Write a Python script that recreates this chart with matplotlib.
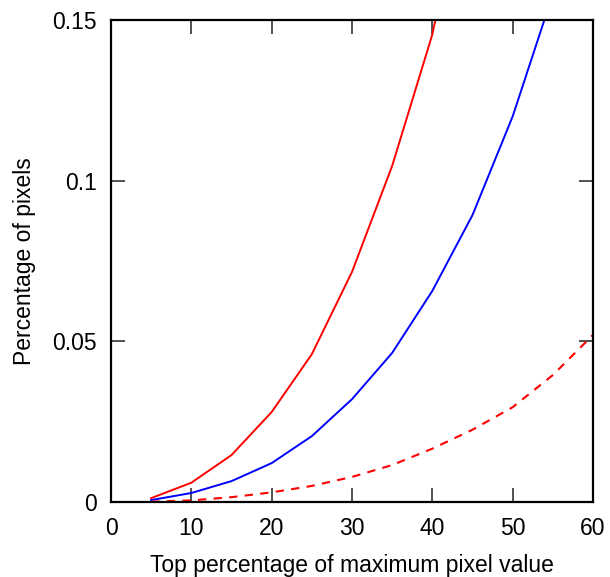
import matplotlib
matplotlib.use("Agg")
import matplotlib.pyplot as plt

x_red = [5, 10, 15, 20, 25, 30, 35, 40, 45]
y_red = [0.0012, 0.006, 0.0146, 0.028, 0.046, 0.0716, 0.1046, 0.1455, 0.205]

x_blue = [5, 10, 15, 20, 25, 30, 35, 40, 45, 50, 55]
y_blue = [0.0006, 0.0028, 0.0065, 0.0121, 0.0205, 0.032, 0.0464, 0.0657, 0.0893, 0.120, 0.158]

x_dash = [5, 10, 15, 20, 25, 30, 35, 40, 45, 50, 55, 60]
y_dash = [0.0001, 0.0005, 0.0015, 0.003, 0.005, 0.0078, 0.0115, 0.0166, 0.0225, 0.0295, 0.0395, 0.052]

xticks = [0, 10, 20, 30, 40, 50, 60]
yticks = [0, 0.05, 0.1, 0.15]
ytick_labels = ["0", "0.05", "0.1", "0.15"]

plt.rcParams['font.family'] = ['Liberation Sans', 'DejaVu Sans']

fig = plt.figure(figsize=(6.1, 5.77), dpi=100)
ax = fig.add_axes([111/610, 75/577, 482/610, 482/577])

ax.plot(x_red, y_red, color='#ff0000', lw=1.4)
ax.plot(x_blue, y_blue, color='#0000ff', lw=1.4)
ax.plot(x_dash, y_dash, color='#ff0000', lw=1.5, linestyle=(0, (4, 3.5)))

ax.set_xlim(0, 60)
ax.set_ylim(0, 0.15)
ax.set_xticks(xticks)
ax.set_yticks(yticks)
ax.set_yticklabels(ytick_labels)

ax.tick_params(direction='in', top=True, right=True, length=10, width=1.2,
               color='#333333', labelsize=16.5)
ax.tick_params(axis='x', pad=11)
ax.tick_params(axis='y', pad=10)
for s in ax.spines.values():
    s.set_linewidth(1.6)
    s.set_color('black')

ax.set_xlabel("Top percentage of maximum pixel value", fontsize=16.5, labelpad=10)
ax.set_ylabel("Percentage of pixels", fontsize=16.5, labelpad=12)

fig.savefig("out.png", dpi=100)
